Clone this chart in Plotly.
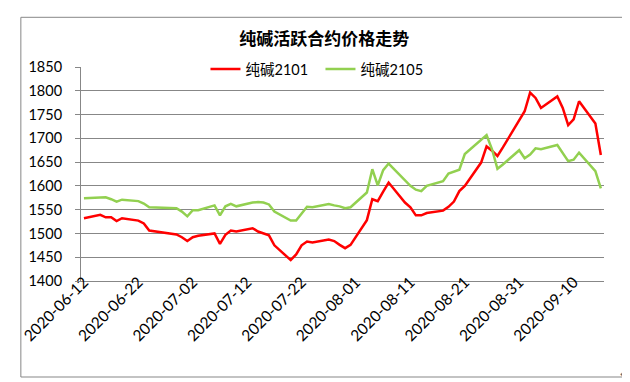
import plotly.graph_objects as go

TITLE = "纯碱活跃合约价格走势"

DATES = [
    "2020-06-12", "2020-06-15", "2020-06-16", "2020-06-17", "2020-06-18", "2020-06-19",
    "2020-06-22", "2020-06-23", "2020-06-24", "2020-06-29", "2020-06-30",
    "2020-07-01", "2020-07-02", "2020-07-03", "2020-07-06", "2020-07-07", "2020-07-08",
    "2020-07-09", "2020-07-10", "2020-07-13", "2020-07-14", "2020-07-15", "2020-07-16",
    "2020-07-17", "2020-07-20", "2020-07-21", "2020-07-22", "2020-07-23", "2020-07-24",
    "2020-07-27", "2020-07-28", "2020-07-29", "2020-07-30", "2020-07-31",
    "2020-08-03", "2020-08-04", "2020-08-05", "2020-08-06", "2020-08-07", "2020-08-10",
    "2020-08-11", "2020-08-12", "2020-08-13", "2020-08-14", "2020-08-17", "2020-08-18",
    "2020-08-19", "2020-08-20", "2020-08-21", "2020-08-24", "2020-08-25", "2020-08-26",
    "2020-08-27", "2020-08-28", "2020-08-31",
    "2020-09-01", "2020-09-02", "2020-09-03", "2020-09-04", "2020-09-07", "2020-09-08",
    "2020-09-09", "2020-09-10", "2020-09-11", "2020-09-14", "2020-09-15",
]

SODA_2101 = [
    1532, 1539, 1534, 1534, 1526, 1532, 1527, 1521, 1506, 1498, 1492,
    1484, 1492, 1495, 1500, 1478, 1497, 1506, 1504, 1511, 1504, 1500, 1496,
    1475, 1444, 1456, 1475, 1483, 1481, 1487, 1484, 1476, 1469, 1476,
    1528, 1572, 1568, 1588, 1607, 1565, 1555, 1538, 1538, 1543, 1548, 1556,
    1567, 1589, 1600, 1649, 1683, 1674, 1663, 1681, 1740,
    1757, 1796, 1785, 1764, 1788, 1764, 1728, 1740, 1778, 1731, 1665,
]

SODA_2105 = [
    1574, 1576, 1576, 1572, 1567, 1571, 1568, 1563, 1555, 1553, 1546,
    1536, 1549, 1549, 1559, 1538, 1557, 1562, 1557, 1565, 1566, 1565, 1561,
    1546, 1527, 1527, 1542, 1556, 1555, 1562, 1559, 1557, 1553, 1555,
    1586, 1635, 1601, 1633, 1647, 1610, 1600, 1592, 1589, 1600, 1610, 1626,
    1630, 1634, 1667, 1696, 1707, 1677, 1636, 1645, 1675,
    1658, 1666, 1679, 1677, 1686, 1668, 1652, 1655, 1670, 1631, 1595,
]

SERIES_NAMES = ["纯碱2101", "纯碱2105"]
TICK_DATES = ["2020-06-12", "2020-06-22", "2020-07-02", "2020-07-12", "2020-07-22",
              "2020-08-01", "2020-08-11", "2020-08-21", "2020-08-31", "2020-09-10"]
Y_TICKS = [1400, 1450, 1500, 1550, 1600, 1650, 1700, 1750, 1800, 1850]

GRID = "#878787"
FONT = "Lato, 'Noto Sans CJK SC', sans-serif"

fig = go.Figure()
fig.add_trace(go.Scatter(x=DATES, y=SODA_2101, mode="lines", name=SERIES_NAMES[0],
                         line=dict(color="#FF0000", width=2.5)))
fig.add_trace(go.Scatter(x=DATES, y=SODA_2105, mode="lines", name=SERIES_NAMES[1],
                         line=dict(color="#92D050", width=2.5)))

fig.update_layout(
    width=630, height=382,
    margin=dict(l=68, r=34, t=59, b=109),
    paper_bgcolor="white", plot_bgcolor="white",
    font=dict(family=FONT, size=14.5, color="#000000"),
    title=dict(text="<b>" + TITLE + "</b>", x=0.502, xref="container", xanchor="center",
               y=1 - 31 / 382, yref="container", yanchor="middle",
               font=dict(family="'Noto Sans CJK SC', sans-serif", size=17, color="#000000")),
    showlegend=True,
    legend=dict(orientation="h", x=0.238, xanchor="left", y=0.99, yanchor="middle",
                bgcolor="rgba(0,0,0,0)", font=dict(family=FONT, size=14.5),
                itemwidth=30, entrywidth=70, entrywidthmode="pixels"),
    xaxis=dict(
        type="date",
        range=["2020-06-11 11:00", "2020-09-15 14:00"],
        tickvals=TICK_DATES, ticktext=TICK_DATES, tickangle=-45,
        showgrid=False, showline=True, linecolor=GRID, linewidth=1,
        ticks="", zeroline=False, ticklabelstandoff=-15,
        tickfont=dict(family=FONT, size=15.5),
    ),
    yaxis=dict(
        range=[1400, 1850], tickvals=Y_TICKS,
        showgrid=True, gridcolor=GRID, gridwidth=1,
        showline=True, linecolor=GRID, linewidth=1,
        ticks="outside", ticklen=5, tickcolor=GRID, ticklabelstandoff=10,
        zeroline=False, tickfont=dict(family=FONT, size=14.5),
    ),
    shapes=[dict(type="rect", xref="paper", yref="paper",
                 x0=-0.115, x1=1.0403, y0=-0.4486, y1=1.2322,
                 line=dict(color=GRID, width=1), fillcolor="rgba(0,0,0,0)", layer="below")],
    annotations=[dict(text="↵", xref="paper", yref="paper", x=1.0375, y=-0.436,
                      showarrow=False, font=dict(family="DejaVu Sans", size=9, color="#666666"),
                      xanchor="center", yanchor="middle", borderpad=0)],
)

fig.write_html("out.html")
